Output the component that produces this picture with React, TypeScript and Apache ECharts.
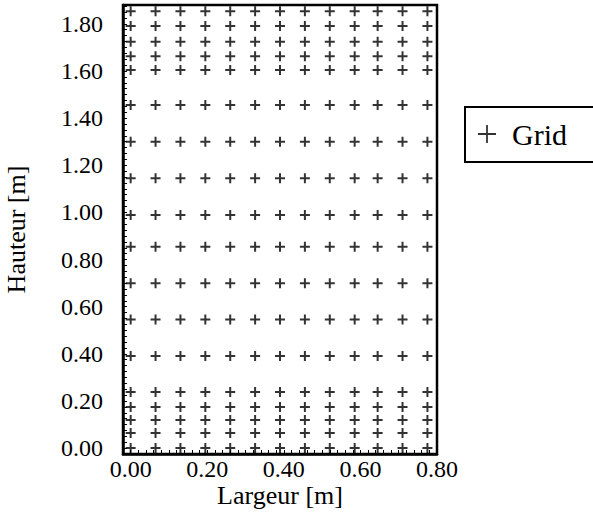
import React, { useEffect, useRef } from "react";
import * as echarts from "echarts";

const xColumns = [0, 0.065, 0.13, 0.195, 0.26, 0.325, 0.39, 0.455, 0.52, 0.585, 0.645, 0.71, 0.775];
const yRows = [0, 0.064, 0.119, 0.174, 0.238, 0.391, 0.546, 0.699, 0.854, 0.989, 1.145, 1.3, 1.456, 1.604, 1.663, 1.724, 1.791, 1.854];
const seriesName = "Grid";
const xAxisName = "Largeur [m]";
const yAxisName = "Hauteur [m]";
const labelStep = 0.2;

const FONT = "Liberation Serif";
const PLUS = "path://M4,0H6V10H4Z M0,4H10V6H0Z";
const PLUS_LEG = "path://M8.1,0H9.9V18H8.1Z M0,8.1H18V9.9H0Z";

const fmt = (v: number) => {
  const r = v / labelStep;
  return Math.abs(r - Math.round(r)) < 1e-6 && v > -1e-9 ? v.toFixed(2) : "";
};

export default function App() {
  const ref = useRef<HTMLDivElement>(null);
  useEffect(() => {
    if (!ref.current) return;
    const chart = echarts.init(ref.current, null, { renderer: "svg" });
    const points: number[][] = [];
    yRows.forEach((y) => xColumns.forEach((x) => points.push([x, y])));
    chart.setOption({
      animation: false,
      backgroundColor: "#fff",
      textStyle: { fontFamily: FONT, color: "#000" },
      grid: {
        left: 123,
        top: 5,
        right: 593 - 437,
        bottom: 523 - 454,
        containLabel: false,
        outerBoundsMode: "none",
        show: true,
        borderColor: "#000",
        borderWidth: 2.5,
        backgroundColor: "transparent",
      },
      graphic: [
        {
          type: "polyline",
          shape: { points: [[640, 107], [465, 107], [465, 162], [640, 162]] },
          style: { fill: "none", stroke: "#000", lineWidth: 2 },
          silent: true,
        },
      ],
      legend: {
        data: [seriesName],
        left: 465,
        top: 107,
        orient: "vertical",
        icon: PLUS_LEG,
        itemWidth: 18,
        itemHeight: 18,
        padding: [12, 0, 12, 13],
        borderWidth: 0,
        textStyle: { fontFamily: FONT, fontSize: 30, color: "#000", padding: [0, 0, 0, 11] },
        itemStyle: { color: "#000" },
      },
      xAxis: {
        type: "value",
        min: -0.02,
        max: 0.8,
        interval: 0.02,
        name: xAxisName,
        nameLocation: "middle",
        nameGap: 28,
        nameMoveOverlap: false,
        nameTextStyle: { fontFamily: FONT, fontSize: 26, color: "#000" },
        axisLine: { show: true, onZero: false, lineStyle: { color: "#000", width: 2.5 } },
        axisTick: { show: true, inside: true, length: 4, lineStyle: { color: "#000", width: 1 } },
        axisLabel: { formatter: fmt, fontFamily: FONT, fontSize: 24, color: "#000", margin: 3 },
        splitLine: { show: false },
      },
      yAxis: {
        type: "value",
        min: -0.025,
        max: 1.88,
        interval: 0.025,
        name: yAxisName,
        nameLocation: "middle",
        nameGap: 94,
        nameTextStyle: { fontFamily: FONT, fontSize: 26, color: "#000" },
        axisLine: { show: true, onZero: false, lineStyle: { color: "#000", width: 2.5 } },
        axisTick: { show: true, inside: true, length: 4, lineStyle: { color: "#000", width: 1 } },
        axisLabel: { formatter: fmt, fontFamily: FONT, fontSize: 24, color: "#000", margin: 20 },
        splitLine: { show: false },
      },
      series: [
        {
          name: seriesName,
          type: "scatter",
          symbol: PLUS,
          symbolSize: 10,
          itemStyle: { color: "#000" },
          data: points,
        },
      ],
    });
    return () => chart.dispose();
  }, []);
  return (
    <div
      ref={ref}
      style={{ position: "fixed", left: 0, top: 0, width: 593, height: 523, background: "#fff" }}
    />
  );
}
